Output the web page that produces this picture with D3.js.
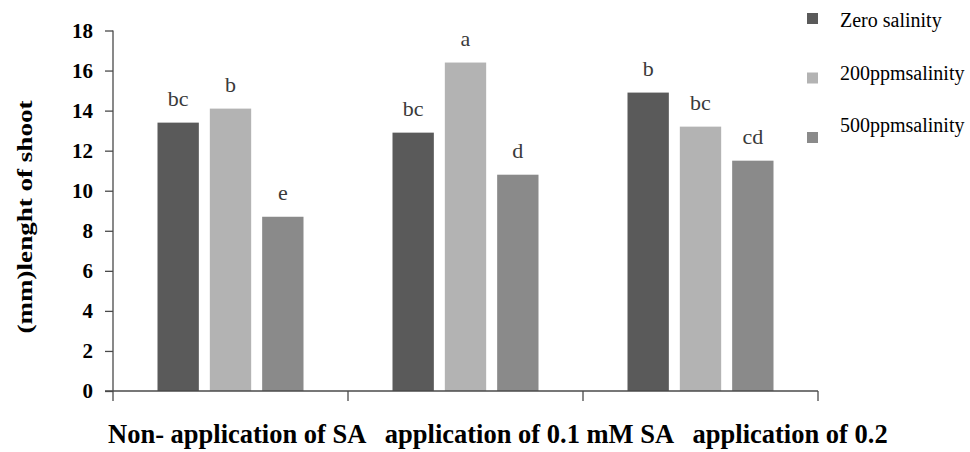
<!DOCTYPE html>
<html>
<head>
<meta charset="utf-8">
<script src="https://cdn.jsdelivr.net/npm/d3@7"></script>
<style>
  body { margin: 0; background: #fff; }
  svg { font-family: "Liberation Serif", "Times New Roman", serif; }
</style>
</head>
<body>
<div id="chart"></div>
<script>
// treatments on the x axis
var categories = ["Non- application of SA", "application of 0.1 mM SA", "application of 0.2"];
// salinity levels (series)
var seriesNames = ["Zero salinity", "200ppmsalinity", "500ppmsalinity"];
var seriesColors = ["#5a5a5a", "#b3b3b3", "#8a8a8a"];
// shoot length per treatment, one array per series
var zeroSalinity = [13.4, 12.9, 14.9];
var ppm200 = [14.1, 16.4, 13.2];
var ppm500 = [8.7, 10.8, 11.5];
// significance letters
var lettersZero = ["bc", "bc", "b"];
var letters200 = ["b", "a", "bc"];
var letters500 = ["e", "d", "cd"];
var yTicks = [0, 2, 4, 6, 8, 10, 12, 14, 16, 18];

var width = 970, height = 452;
var plotLeft = 113, plotRight = 818, plotTop = 30.5, plotBottom = 391;

var svg = d3.select("#chart").append("svg")
    .attr("width", width)
    .attr("height", height);

var x = d3.scaleBand()
    .domain(categories)
    .range([plotLeft, plotRight])
    .padding(0);

var xInner = d3.scaleBand()
    .domain(seriesNames)
    .range([44.5, 190.5])
    .paddingInner(0.21)
    .paddingOuter(0);

var y = d3.scaleLinear()
    .domain([0, 18])
    .range([plotBottom, plotTop]);

var series = [zeroSalinity, ppm200, ppm500];
var letters = [lettersZero, letters200, letters500];

// flatten into marks
var marks = [];
categories.forEach(function(c, i) {
    seriesNames.forEach(function(s, j) {
        marks.push({ cat: c, name: s, value: series[j][i], letter: letters[j][i], color: seriesColors[j] });
    });
});

// bars
svg.selectAll("rect.bar")
    .data(marks)
    .enter().append("rect")
    .attr("class", "bar")
    .attr("x", function(d) { return x(d.cat) + xInner(d.name); })
    .attr("y", function(d) { return y(d.value); })
    .attr("width", xInner.bandwidth())
    .attr("height", function(d) { return y(0) - y(d.value); })
    .style("fill", function(d) { return d.color; });

// letters above bars
svg.selectAll("text.letter")
    .data(marks)
    .enter().append("text")
    .attr("class", "letter")
    .attr("x", function(d) { return x(d.cat) + xInner(d.name) + xInner.bandwidth() / 2; })
    .attr("y", function(d) { return y(d.value) - 17; })
    .attr("text-anchor", "middle")
    .style("font-size", "22px")
    .style("fill", "#3a3a3a")
    .text(function(d) { return d.letter; });

// y axis
var yAxis = d3.axisLeft(y)
    .tickValues(yTicks)
    .tickSize(8)
    .tickPadding(12)
    .tickFormat(d3.format("d"));

var gy = svg.append("g")
    .attr("transform", "translate(" + plotLeft + ",0)")
    .call(yAxis);
gy.select(".domain").attr("d", "M0," + plotTop + "V" + plotBottom).style("stroke", "#4a4a4a").style("stroke-width", 1.3);
gy.selectAll(".tick line").style("stroke", "#4a4a4a").style("stroke-width", 1.3);
gy.selectAll(".tick text")
    .style("font-family", "Liberation Serif, serif")
    .style("font-size", "21px")
    .style("font-weight", "bold")
    .style("fill", "#000");

// x axis: ticks at group boundaries
var bounds = categories.map(function(c) { return x(c); }).concat([plotRight]);
svg.append("line")
    .attr("x1", plotLeft - 8).attr("x2", plotRight)
    .attr("y1", plotBottom).attr("y2", plotBottom)
    .style("stroke", "#4a4a4a").style("stroke-width", 1.3);
svg.selectAll("line.xtick")
    .data(bounds)
    .enter().append("line")
    .attr("class", "xtick")
    .attr("x1", function(d) { return d; }).attr("x2", function(d) { return d; })
    .attr("y1", plotBottom).attr("y2", plotBottom + 10)
    .style("stroke", "#4a4a4a").style("stroke-width", 1.3);

// x labels written as one line, as in the original
svg.append("text")
    .attr("x", 108)
    .attr("y", 443)
    .style("white-space", "pre")
    .style("font-size", "26.5px")
    .style("font-weight", "bold")
    .style("fill", "#000")
    .text(categories.join("   "));

// y axis title
svg.append("text")
    .attr("transform", "translate(32,217) rotate(-90)")
    .attr("text-anchor", "middle")
    .style("font-size", "21px")
    .style("font-weight", "bold")
    .attr("textLength", 233)
    .attr("lengthAdjust", "spacingAndGlyphs")
    .text("(mm)lenght of shoot");

// legend
var legend = svg.selectAll("g.legend")
    .data(seriesNames)
    .enter().append("g")
    .attr("class", "legend");

legend.append("rect")
    .attr("x", 807)
    .attr("y", function(d, i) { return 13 + i * 59.5; })
    .attr("width", 11)
    .attr("height", 11)
    .style("fill", function(d, i) { return seriesColors[i]; });

legend.append("text")
    .attr("x", 840)
    .attr("y", function(d, i) { return 27 + i * 52.7; })
    .style("font-size", "20px")
    .style("fill", "#000")
    .text(function(d) { return d; });
</script>
</body>
</html>
